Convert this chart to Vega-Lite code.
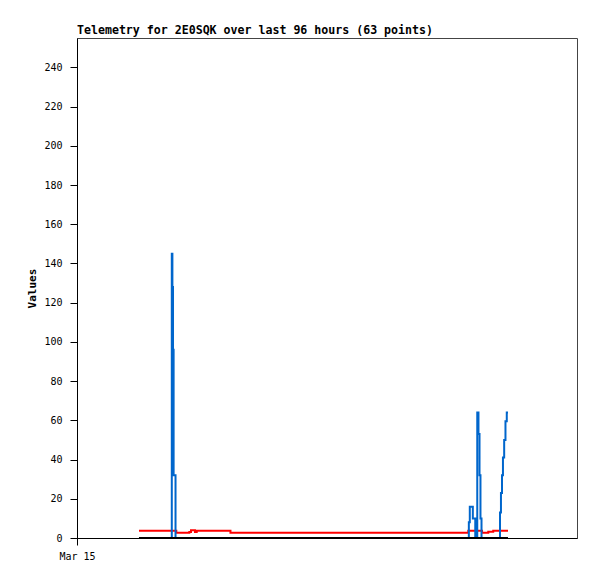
{
  "$schema": "https://vega.github.io/schema/vega-lite/v6.json",
  "width": 500,
  "height": 500,
  "autosize": {"type": "none"},
  "padding": {"left": 77, "top": 38, "right": 20, "bottom": 41},
  "background": "white",
  "title": {
    "text": "Telemetry for 2E0SQK over last 96 hours (63 points)",
    "anchor": "start",
    "frame": "group",
    "font": "DejaVu Sans Mono",
    "fontSize": 11.6,
    "fontWeight": "bold",
    "color": "#000",
    "offset": 1
  },
  "config": {
    "view": {"stroke": "#444", "strokeWidth": 1},
    "axis": {
      "labelFont": "DejaVu Sans Mono",
      "labelFontSize": 10,
      "labelColor": "#000",
      "titleFont": "DejaVu Sans Mono",
      "titleFontSize": 11,
      "titleFontWeight": "bold",
      "titleColor": "#000",
      "domainColor": "#000",
      "tickColor": "#000",
      "grid": false
    }
  },
  "data": {
    "values": [
      {"t": "2024-03-15T11:54:00", "v1": 3.7, "v2": 0, "v3": 0},
      {"t": "2024-03-15T18:12:00", "v1": 3.7, "v2": 145, "v3": 0},
      {"t": "2024-03-15T18:19:00", "v1": 3.7, "v2": 128, "v3": 0},
      {"t": "2024-03-15T18:26:00", "v1": 3.7, "v2": 96, "v3": 0},
      {"t": "2024-03-15T18:33:00", "v1": 3.7, "v2": 32, "v3": 0},
      {"t": "2024-03-15T18:55:00", "v1": 3.7, "v2": 0, "v3": 0},
      {"t": "2024-03-15T19:04:00", "v1": 2.7, "v2": 0, "v3": 0},
      {"t": "2024-03-15T21:34:00", "v1": 3.0, "v2": 0, "v3": 0},
      {"t": "2024-03-15T21:53:00", "v1": 3.9, "v2": 0, "v3": 0},
      {"t": "2024-03-15T22:39:00", "v1": 3.1, "v2": 0, "v3": 0},
      {"t": "2024-03-15T22:59:00", "v1": 3.7, "v2": 0, "v3": 0},
      {"t": "2024-03-16T05:28:00", "v1": 2.7, "v2": 0, "v3": 0},
      {"t": "2024-03-16T06:55:00", "v1": 2.7, "v2": 0, "v3": 0},
      {"t": "2024-03-16T08:27:00", "v1": 2.7, "v2": 0, "v3": 0},
      {"t": "2024-03-16T09:48:00", "v1": 2.7, "v2": 0, "v3": 0},
      {"t": "2024-03-16T11:20:00", "v1": 2.7, "v2": 0, "v3": 0},
      {"t": "2024-03-16T12:52:00", "v1": 2.7, "v2": 0, "v3": 0},
      {"t": "2024-03-16T14:12:00", "v1": 2.7, "v2": 0, "v3": 0},
      {"t": "2024-03-16T15:45:00", "v1": 2.7, "v2": 0, "v3": 0},
      {"t": "2024-03-16T17:17:00", "v1": 2.7, "v2": 0, "v3": 0},
      {"t": "2024-03-16T18:37:00", "v1": 2.7, "v2": 0, "v3": 0},
      {"t": "2024-03-16T20:10:00", "v1": 2.7, "v2": 0, "v3": 0},
      {"t": "2024-03-16T21:42:00", "v1": 2.7, "v2": 0, "v3": 0},
      {"t": "2024-03-16T23:02:00", "v1": 2.7, "v2": 0, "v3": 0},
      {"t": "2024-03-17T00:35:00", "v1": 2.7, "v2": 0, "v3": 0},
      {"t": "2024-03-17T02:07:00", "v1": 2.7, "v2": 0, "v3": 0},
      {"t": "2024-03-17T03:27:00", "v1": 2.7, "v2": 0, "v3": 0},
      {"t": "2024-03-17T04:59:00", "v1": 2.7, "v2": 0, "v3": 0},
      {"t": "2024-03-17T06:32:00", "v1": 2.7, "v2": 0, "v3": 0},
      {"t": "2024-03-17T07:52:00", "v1": 2.7, "v2": 0, "v3": 0},
      {"t": "2024-03-17T09:24:00", "v1": 2.7, "v2": 0, "v3": 0},
      {"t": "2024-03-17T10:57:00", "v1": 2.7, "v2": 0, "v3": 0},
      {"t": "2024-03-17T12:17:00", "v1": 2.7, "v2": 0, "v3": 0},
      {"t": "2024-03-17T13:49:00", "v1": 2.7, "v2": 0, "v3": 0},
      {"t": "2024-03-17T15:22:00", "v1": 2.7, "v2": 0, "v3": 0},
      {"t": "2024-03-17T16:42:00", "v1": 2.7, "v2": 0, "v3": 0},
      {"t": "2024-03-17T18:14:00", "v1": 2.7, "v2": 0, "v3": 0},
      {"t": "2024-03-17T19:47:00", "v1": 2.7, "v2": 0, "v3": 0},
      {"t": "2024-03-17T21:07:00", "v1": 2.7, "v2": 0, "v3": 0},
      {"t": "2024-03-17T22:39:00", "v1": 2.7, "v2": 0, "v3": 0},
      {"t": "2024-03-18T00:12:00", "v1": 2.7, "v2": 0, "v3": 0},
      {"t": "2024-03-18T01:32:00", "v1": 2.7, "v2": 0, "v3": 0},
      {"t": "2024-03-18T03:08:00", "v1": 3.7, "v2": 0, "v3": 0},
      {"t": "2024-03-18T03:14:00", "v1": 3.7, "v2": 8, "v3": 0},
      {"t": "2024-03-18T03:25:00", "v1": 3.7, "v2": 16, "v3": 0},
      {"t": "2024-03-18T04:00:00", "v1": 3.7, "v2": 10, "v3": 0},
      {"t": "2024-03-18T04:28:00", "v1": 3.7, "v2": 0, "v3": 0},
      {"t": "2024-03-18T04:51:00", "v1": 3.7, "v2": 64, "v3": 0},
      {"t": "2024-03-18T05:05:00", "v1": 3.7, "v2": 53, "v3": 0},
      {"t": "2024-03-18T05:17:00", "v1": 3.7, "v2": 32, "v3": 0},
      {"t": "2024-03-18T05:28:00", "v1": 3.7, "v2": 10, "v3": 0},
      {"t": "2024-03-18T05:40:00", "v1": 3.7, "v2": 0, "v3": 0},
      {"t": "2024-03-18T05:46:00", "v1": 2.7, "v2": 0, "v3": 0},
      {"t": "2024-03-18T06:58:00", "v1": 3.2, "v2": 0, "v3": 0},
      {"t": "2024-03-18T07:55:00", "v1": 3.7, "v2": 0, "v3": 0},
      {"t": "2024-03-18T09:13:00", "v1": 3.7, "v2": 13, "v3": 0},
      {"t": "2024-03-18T09:24:00", "v1": 3.7, "v2": 23, "v3": 0},
      {"t": "2024-03-18T09:36:00", "v1": 3.7, "v2": 32, "v3": 0},
      {"t": "2024-03-18T09:47:00", "v1": 3.7, "v2": 41, "v3": 0},
      {"t": "2024-03-18T10:01:00", "v1": 3.7, "v2": 50, "v3": 0},
      {"t": "2024-03-18T10:16:00", "v1": 3.7, "v2": 59.6, "v3": 0},
      {"t": "2024-03-18T10:31:00", "v1": 3.7, "v2": 64, "v3": 0},
      {"t": "2024-03-18T10:45:00", "v1": 3.7, "v2": 64, "v3": 0}
    ]
  },
  "encoding": {
    "x": {
      "field": "t",
      "type": "temporal",
      "scale": {"domain": [{"year": 2024, "month": 3, "date": 15}, {"year": 2024, "month": 3, "date": 19}]},
      "axis": {
        "title": null,
        "values": [{"year": 2024, "month": 3, "date": 15}],
        "format": "%b %d",
        "labelFlush": false,
        "labelAlign": "center",
        "tickSize": 7,
        "labelPadding": 6
      }
    }
  },
  "layer": [
    {
      "mark": {"type": "line", "color": "#ff0000", "strokeWidth": 2, "interpolate": "step-after"},
      "encoding": {
        "y": {
          "field": "v1",
          "type": "quantitative",
          "scale": {"domain": [0, 255], "nice": false},
          "axis": {
            "title": "Values",
            "values": [0, 20, 40, 60, 80, 100, 120, 140, 160, 180, 200, 220, 240],
            "tickSize": 7,
            "labelPadding": 8,
            "titlePadding": 6
          }
        }
      }
    },
    {
      "mark": {"type": "line", "color": "#0066cc", "strokeWidth": 2, "interpolate": "step-after"},
      "encoding": {"y": {"field": "v2", "type": "quantitative"}}
    },
    {
      "mark": {"type": "line", "color": "#000000", "strokeWidth": 2, "interpolate": "step-after"},
      "encoding": {"y": {"field": "v3", "type": "quantitative"}}
    }
  ]
}
